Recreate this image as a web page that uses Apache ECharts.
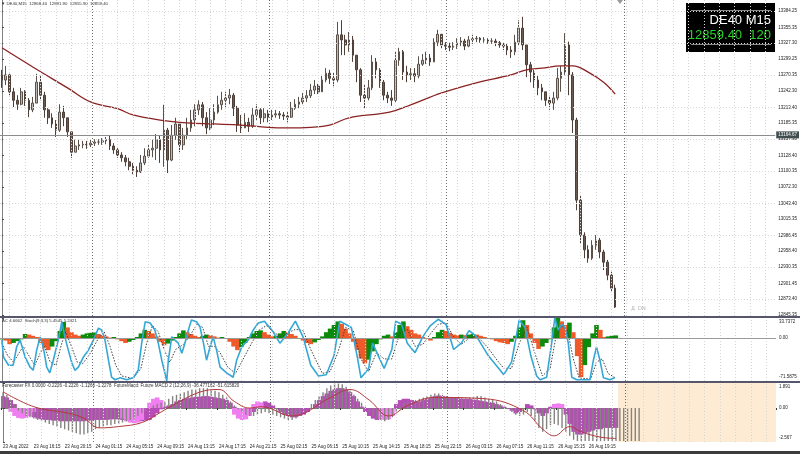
<!DOCTYPE html>
<html><head><meta charset="utf-8">
<script src="https://cdn.jsdelivr.net/npm/echarts@6/dist/echarts.min.js"></script>
<style>html,body{margin:0;padding:0;background:#fff}#c{width:800px;height:454px}</style>
</head><body><div id="c"></div><script>
// ---------- DATA ----------
const NCAT = 201; // 30-min slots across the plot (incl. empty future area)
const timeLabels = ['23 Aug 2022','23 Aug 16:15','23 Aug 20:15','24 Aug 01:15','24 Aug 05:15','24 Aug 09:15','24 Aug 13:15','24 Aug 17:15','24 Aug 21:15','25 Aug 02:15','25 Aug 06:15','25 Aug 10:15','25 Aug 14:15','25 Aug 18:15','25 Aug 22:15','26 Aug 03:15','26 Aug 07:15','26 Aug 11:15','26 Aug 15:15','26 Aug 19:15'];
const firstOpen = 13270;
const closes = [13262,13271,13241,13226,13219,13241,13226,13209,13221,13258,
13235,13209,13195,13184,13173,13205,13195,13170,13134,13145,
13147,13148,13147,13150,13152,13152,13154,13156,13145,13138,
13129,13124,13117,13109,13102,13099,13115,13127,13138,13141,
13156,13138,13173,13120,13164,13184,13147,13164,13177,13191,
13209,13218,13195,13177,13191,13205,13218,13226,13230,13235,
13212,13182,13177,13187,13180,13200,13209,13195,13202,13196,
13200,13202,13200,13198,13196,13212,13219,13223,13230,13234,
13244,13251,13241,13262,13274,13265,13262,13342,13333,13324,
13333,13306,13280,13235,13230,13248,13294,13280,13258,13235,
13230,13226,13297,13312,13276,13271,13273,13269,13290,13297,
13301,13294,13329,13343,13324,13322,13320,13322,13329,13331,
13322,13333,13335,13336,13333,13333,13331,13331,13328,13324,
13322,13315,13312,13329,13354,13324,13289,13276,13262,13248,
13241,13226,13221,13230,13265,13276,13324,13271,13191,13049,
12987,12961,12946,12969,12978,12957,12939,12916,12893,12859.4];
const highs = [13280,13287,13273,13248,13235,13248,13244,13230,13232,13273,
13269,13241,13212,13203,13191,13219,13216,13195,13170,13156,
13156,13154,13154,13156,13157,13157,13159,13161,13163,13150,
13141,13134,13129,13124,13115,13109,13129,13141,13148,13156,
13166,13163,13218,13177,13182,13195,13187,13177,13195,13209,
13219,13226,13223,13205,13212,13219,13234,13241,13241,13246,
13239,13216,13200,13203,13195,13212,13219,13212,13212,13209,
13209,13209,13207,13205,13205,13223,13228,13232,13239,13244,
13255,13262,13255,13271,13283,13280,13276,13365,13368,13342,
13347,13340,13306,13283,13253,13262,13306,13301,13283,13262,
13241,13244,13312,13319,13315,13287,13283,13283,13304,13308,
13312,13308,13336,13351,13345,13329,13328,13329,13336,13338,
13335,13340,13342,13340,13338,13338,13336,13336,13335,13331,
13329,13326,13322,13342,13368,13374,13324,13294,13280,13269,
13255,13241,13234,13241,13283,13287,13345,13330,13276,13195,
13058,12992,12969,12978,12987,12982,12961,12943,12922,12899];
const lows = [13248,13253,13235,13214,13209,13217,13216,13196,13205,13221,
13226,13195,13184,13177,13161,13170,13180,13161,13124,13134,
13138,13141,13140,13143,13145,13147,13147,13148,13138,13131,
13124,13117,13109,13102,13095,13090,13097,13111,13124,13125,
13120,13115,13108,13097,13118,13156,13134,13138,13156,13170,
13180,13200,13180,13166,13173,13182,13202,13209,13212,13219,
13198,13170,13168,13177,13170,13177,13191,13184,13187,13187,
13191,13195,13193,13191,13187,13195,13209,13212,13219,13223,
13230,13237,13237,13241,13258,13255,13251,13258,13306,13306,
13312,13294,13258,13223,13212,13226,13244,13265,13248,13226,
13221,13216,13222,13287,13262,13258,13262,13258,13265,13287,
13290,13287,13294,13322,13317,13315,13313,13315,13317,13322,
13315,13320,13326,13329,13328,13328,13326,13326,13322,13319,
13315,13306,13301,13306,13324,13315,13267,13258,13248,13235,
13226,13216,13209,13209,13226,13241,13271,13235,13168,13031,
12973,12946,12938,12943,12961,12946,12925,12907,12886,12858];
const maPoints = [[0,13319],[8,13285],[17,13248],[23,13223],[30,13211],[34,13200],[41,13191],[48,13186],[55,13184],[62,13182],[69,13178],[74,13177],[80,13178],[85,13182],[90,13195],[100.5,13205],[106,13218],[114,13239],[123,13257],[132,13271],[136,13280],[140,13283],[145,13287],[148,13287],[152,13276],[156,13258],[159,13237]];
const priceTicks = [13384.25,13355.35,13327.30,13299.25,13270.35,13242.30,13213.40,13185.35,13157.30,13128.40,13100.35,13072.30,13043.40,13015.35,12986.45,12958.40,12930.35,12901.45,12873.40,12845.35];
const gridPrices = [13384.25,13327.30,13270.35,13213.40,13157.30,13100.35,13043.40,12986.45,12930.35,12873.40];
const hLinePrice = 13164.67;
const lastPrice = 12859.40;
const daySeparators = [23.3, 69.4, 115.3, 161.4];
const futureStart = 159.5;

const acTicks = [33.7372, 0, -71.5875];
const acTickText = ['33.7372','0.00','-71.5875'];
const acValues = [-2,-4,-10,-8,-5,-2,7,6,4,2,-8,-16,-20,-14,-5,12,27,18,10,6,4,6,8,9,9.5,7,5,3,1,2,-2,-5,-8,-6,-3,2,8,14,12,8,3,-6,-12,-9,-4,2,8,13,10,7,4,2,4,6,5,3,1,2,0,-6,-14,-20,-15,-8,2,8,12,
13,10,6,3,4,8,12,10,7,4,0,-4,-8,-10,-7,-3,3,10,16,22,28,24,16,8,-6,-20,-34,-42,-36,-22,-10,-2,4,6,3,10,22,28,20,14,8,6,2,0,-4,2,10,14,12,9,6,5,6,5,6,7,6,4,2,0,-2,-5,-7,-8,-10,-6,4,18,30,22,8,-8,-18,
-14,-8,-2,18,35,28,22,26,10,-30,-65,-45,-15,8,22,14,2,3,4,4.6662];
const stochMain = [[0,65],[0.4,38],[1.7,25],[2.9,25],[3.8,54],[4.7,65],[6,38],[7.3,22],[8.1,17],[9,49],[9.9,70],[10.7,54],[11.6,22],[12.4,13],[13.3,33],[14.6,65],[15.5,94],[16.3,70],[17.2,49],[18.1,29],[18.9,17],[19.8,22],[21.1,38],[22.4,49],[23.7,65],[25,84],[25.8,81],[26.7,65],[27.6,33],[28.4,6],[29.3,2],[30.6,5],[32.3,2],[34,5],[35.3,17],[36.2,60],[37.1,94],[38.4,92],[39.6,81],[40.5,60],[41.4,33],[42.2,13],[42.7,0],[43.1,33],[44,70],[44.8,65],[45.7,60],[46.6,44],[47.4,60],[48.3,81],[49.1,97],[50.4,94],[51.3,86],[52.2,60],[53,33],[53.9,54],[54.7,70],[55.6,49],[56.5,22],[58.2,13],[59.9,6],[60.8,33],[62.1,54],[63.8,65],[65.1,81],[66.4,92],
[68,95],[70,80],[72,60],[74,75],[76,95],[78,70],[80,25],[82,8],[84,10],[86,40],[87.5,95],[89,90],[90.5,85],[92,40],[93,5],[95,20],[96,60],[97.5,40],[99,20],[101,50],[102,95],[103.5,90],[105,60],[107,45],[109,70],[111,88],[113,98],[115,90],[117,50],[119,60],[121,80],[123,70],[126,40],[128,25],[130,10],[132,30],[134,97],[135.5,85],[137,40],[138.5,8],
[139.4,2],[141.1,6],[142.4,60],[143.2,100],[144.1,81],[145,90],[145.8,86],[146.7,60],[147.6,6],[148.9,2],[152.3,2],[153.2,33],[154,54],[154.9,33],[155.8,5],[157.5,2],[158.8,5.45]];
const stochSignal = [[0,60],[1.5,40],[3,30],[4.5,45],[5.5,55],[7,40],[8.5,25],[10,45],[11,55],[12.5,30],[14,25],[15.5,60],[16.5,78],[18,55],[19.5,30],[21,28],[23,45],[25,68],[26.5,78],[28,55],[29.5,25],[31,8],[34,4],[36,20],[37.5,60],[39,88],[40.5,78],[42,50],[43.5,30],[45,50],[47,58],[49,75],[50.5,90],[52,85],[53.5,55],[55,55],[56.5,45],[58.5,22],[60.5,12],[62.5,35],[64.5,58],[66.5,80],[68.5,88],[72,70],[76,82],[78,80],[80,50],[83,12],[85,15],[87,45],[89,85],[91,80],[93,35],[95,15],[97,45],[99,35],[101,35],[103,75],[105,82],[107,55],[109,58],[111,75],[113,90],[115,92],[117,70],[119,58],[121,68],[123,72],[126,52],[128,35],[130,20],[132,20],[134,60],[136,85],[138,45],[140,8],[142,20],[143.5,70],[145,88],[146.5,80],[148,35],[149.5,5],[152.5,3],[154,30],[155.5,35],[157,12],[158.8,5.24]];

const fxTicks = [1.891, 0, -2.567];
const fxTickText = ['1.891','0.00','-2.567'];
const macdHist = [0.9,0.8,0.6,0.3,-0.2,-0.4,-0.5,-0.6,-0.7,-0.8,
-0.85,-0.9,-0.9,-0.95,-0.95,-1.0,-1.0,-1.0,-1.0,-1.0,-1.0,-1.0,-0.95,-0.95,-0.9,-0.9,-0.9,-0.9,-0.85,-0.85,-0.85,-0.9,-0.9,-0.95,-1.0,-1.0,-1.0,-0.95,-0.9,-0.7,
-0.4,-0.1,0.1,0.2,0.3,0.5,0.6,0.7,0.75,0.8,0.85,0.85,0.9,0.9,0.85,0.8,0.75,0.7,0.6,0.4,
0.1,-0.2,-0.5,-0.6,-0.5,-0.3,0.1,0.4,0.5,0.4,0.2,0,-0.3,-0.5,-0.6,-0.7,-0.7,-0.6,-0.5,-0.3,
0,0.3,0.6,0.9,1.1,1.3,1.4,1.5,1.5,1.4,1.2,0.9,0.5,0.1,-0.3,-0.6,-0.8,-0.9,-0.8,-0.6,
-0.3,0,0.3,0.6,0.7,0.7,0.6,0.5,0.5,0.6,0.7,0.8,0.9,0.95,0.9,0.85,0.8,0.8,0.75,0.7,
0.7,0.7,0.65,0.6,0.55,0.5,0.45,0.4,0.3,0.2,0.1,0,-0.2,-0.4,-0.3,0,0.3,0.2,-0.1,-0.4,
-0.6,-0.4,0.1,0.3,0.2,0,-0.5,-1.2,-1.8,-2.0,-2.0,-1.9,-1.8,-1.7,-1.6,-1.6,-1.5,-1.5,-1.5,-1.5];
const fxPink = [[2,-0.3],[3,-0.6],[4,-0.75],[5,-0.8],[6,-0.75],[7,-0.6],[8,-0.3],[31,-0.8],[32,-1.0],[33,-1.1],[34,-1.15],[35,-1.1],[36,-0.9],[38,0.4],[39,0.7],[40,0.8],[41,0.6],[60,-0.5],[61,-0.8],[62,-0.9],[63,-0.85],[64,-0.6],[65,0.3],[66,0.5],[67,0.4],[98,-0.8],[99,-0.9],[100,-0.85],[101,-0.6],[143,0.3],[144,0.35],[145,0.3]];
const grayHist = [1.2,1.0,0.6,0.2,-0.2,-0.4,-0.6,-0.7,-0.8,-0.9,
-1.0,-1.1,-1.2,-1.3,-1.4,-1.5,-1.6,-1.7,-1.8,-1.9,-2.0,-2.0,-1.9,-1.8,-1.6,-1.5,-1.4,-1.3,-1.3,-1.2,-1.2,-1.1,-1.0,-0.9,-0.8,-0.6,-0.4,-0.2,0,0.2,
0.3,0.4,0.5,0.7,0.9,1.0,1.1,1.2,1.3,1.4,1.4,1.5,1.5,1.5,1.4,1.3,1.2,1.0,0.8,0.5,
0.2,-0.1,-0.3,-0.5,-0.6,-0.6,-0.5,-0.4,-0.3,-0.4,-0.5,-0.6,-0.7,-0.8,-0.9,-0.9,-0.8,-0.6,-0.3,0,
0.3,0.6,0.9,1.2,1.5,1.7,1.85,1.85,1.8,1.6,1.3,1.0,0.7,0.4,0.1,-0.3,-0.6,-0.8,-0.9,-1.0,
-0.9,-0.7,-0.3,0.1,0.4,0.5,0.5,0.6,0.7,0.8,0.9,1.0,1.1,1.1,1.0,0.9,0.8,0.8,0.8,0.8,
0.8,0.8,0.8,0.9,0.9,0.8,0.7,0.6,0.5,0.3,0.1,-0.1,-0.3,-0.5,-0.6,-0.5,-0.3,-0.6,-1.0,-1.5,
-1.8,-1.6,-1.3,-1.2,-1.3,-1.5,-1.8,-2.1,-2.4,-2.5,-2.5,-2.5,-2.5,-2.5,-2.5,-2.5,-2.5,-2.5,-2.5,-2.5,
-2.5,-2.5,-2.5,-2.5,-2.5,-2.5];
const signalLine = [[0,1.23],[8,0.1],[17,-0.4],[21,-0.77],[25,-1.5],[30,-1.4],[36,-1.1],[41,-0.3],[44,0.2],[51,1.2],[56,1.4],[60,0.5],[64,0],[67,0.1],[75,-0.6],[85,0.8],[90,1.4],[95,0.6],[100,-0.6],[105,0.2],[112,0.8],[125,0.7],[135,-0.2],[140,-1.6],[143,-2.1],[147,-1.4],[150,-1.8],[155,-2.2],[159,-2.3]];

// ---------- BUILD ----------
const cats = Array.from({length: NCAT}, (_, i) => String(i));
const candleData = closes.map((c, i) => [i === 0 ? firstOpen : closes[i - 1], c, lows[i], highs[i]]);
const acData = acValues.map((v, i) => ({value: v, itemStyle: {color: (i > 0 && v < acValues[i - 1]) ? '#ef5a2a' : '#0b8a0b'}}));
const vGrid = []; for (let c = 2; c < NCAT; c += 4) vGrid.push({xAxis: c});
const gridLineStyle = {color: '#d6d6d6', width: 1, type: [1, 2]};
const dayLineStyle = {color: '#6e6e6e', width: 1, type: [1, 2]};
function gridSeries(gi, yi, extraY) {
  const data = vGrid.map(d => Object.assign({lineStyle: gridLineStyle}, d))
    .concat(daySeparators.map(d => ({xAxis: d, lineStyle: dayLineStyle})))
    .concat((extraY || []).map(p => ({yAxis: p, lineStyle: gridLineStyle})));
  return {type: 'line', xAxisIndex: 3 + gi, yAxisIndex: yi, data: [], z: 0, silent: true,
    markLine: {silent: true, symbol: 'none', label: {show: false}, animation: false, data: data}};
}
// edge labels are nudged inside the panel (top label down, bottom label up) like the terminal does
const edgeFmt = (ticks, texts) => v => {
  const k = ticks.findIndex(t => Math.abs(t - v) < 1e-6);
  if (k < 0) return '';
  if (k === 0) return '{t|' + texts[k] + '}';
  if (k === ticks.length - 1) return '{b|' + texts[k] + '}';
  return texts[k];
};
const edgeRich = {t: {fontSize: 4.5, padding: [8, 0, 0, 0], color: '#222'}, b: {fontSize: 4.5, padding: [0, 0, 8, 0], color: '#222'}};
const lblBase = {fontSize: 4.5, color: '#222', margin: 3, fontFamily: 'Liberation Sans, Arial'};
const hiddenCat = gi => ({type: 'category', gridIndex: gi, data: cats, boundaryGap: true, axisLine: {show: false}, axisTick: {show: false}, axisLabel: {show: false}});

const option = {
  animation: false,
  backgroundColor: '#ffffff',
  grid: [
    {left: 0, top: 0, width: 776, height: 316},
    {left: 0, top: 318, width: 776, height: 63},
    {left: 0, top: 383, width: 776, height: 59}
  ],
  xAxis: [
    hiddenCat(0),
    hiddenCat(1),
    {type: 'category', gridIndex: 2, data: cats, boundaryGap: true,
      axisLine: {show: true, lineStyle: {color: '#7a7a7a', width: 1}},
      axisTick: {show: true, interval: 7, length: 2, lineStyle: {color: '#333'}},
      axisLabel: {show: true, interval: 7, align: 'left', fontSize: 4.5, color: '#222', margin: 2, fontFamily: 'Liberation Sans, Arial',
        formatter: (v) => { const i = +v; return i % 8 === 0 ? (timeLabels[i / 8] || '') : ''; }}},
    {type: 'value', gridIndex: 0, min: -0.5, max: NCAT - 0.5, show: false},
    {type: 'value', gridIndex: 1, min: -0.5, max: NCAT - 0.5, show: false},
    {type: 'value', gridIndex: 2, min: -0.5, max: NCAT - 0.5, show: false},
    hiddenCat(2),
    hiddenCat(2)
  ],
  yAxis: [
    {type: 'value', gridIndex: 0, position: 'right', min: 12843.6, max: 13403.75, scale: true,
      axisLine: {show: true, lineStyle: {color: '#808080'}},
      axisTick: {show: true, length: 2, customValues: priceTicks, lineStyle: {color: '#444'}},
      axisLabel: Object.assign({customValues: priceTicks, formatter: v => v.toFixed(2)}, lblBase),
      splitLine: {show: false}},
    {type: 'value', gridIndex: 1, position: 'right', min: -71.5875, max: 33.7372,
      axisLine: {show: true, lineStyle: {color: '#808080'}},
      axisTick: {show: true, length: 2, customValues: acTicks, lineStyle: {color: '#444'}},
      axisLabel: Object.assign({customValues: acTicks, formatter: edgeFmt(acTicks, acTickText), rich: edgeRich}, lblBase),
      splitLine: {show: false}},
    {type: 'value', gridIndex: 1, min: 0, max: 100, show: false},
    {type: 'value', gridIndex: 2, position: 'right', min: -2.567, max: 1.891,
      axisLine: {show: true, lineStyle: {color: '#808080'}},
      axisTick: {show: true, length: 2, customValues: fxTicks, lineStyle: {color: '#444'}},
      axisLabel: Object.assign({customValues: fxTicks, formatter: edgeFmt(fxTicks, fxTickText), rich: edgeRich}, lblBase),
      splitLine: {show: false}}
  ],
  series: [
    gridSeries(0, 0, gridPrices),
    gridSeries(1, 1, []),
    Object.assign(gridSeries(2, 3, []), {markArea: {silent: true, itemStyle: {color: '#fdebd3'}, data: [[{xAxis: futureStart}, {xAxis: NCAT - 0.5}]]}}),
    {type: 'candlestick', xAxisIndex: 0, yAxisIndex: 0, data: candleData, barWidth: '55%', z: 3,
      itemStyle: {color: '#bdb8b3', color0: '#6a5a50', borderColor: '#5a514b', borderColor0: '#4e4038', borderWidth: 1}},
    {type: 'line', xAxisIndex: 3, yAxisIndex: 0, data: maPoints, smooth: 0.4, symbol: 'none', z: 4,
      lineStyle: {color: '#8b2222', width: 1.3},
      markLine: {silent: true, symbol: 'none', animation: false,
        data: [
          {yAxis: hLinePrice, lineStyle: {color: '#8c8c8c', width: 1, type: 'solid'},
            label: {show: true, position: 'end', distance: 1, formatter: hLinePrice.toFixed(2), fontSize: 4.5, color: '#fff', backgroundColor: '#3f4d4f', padding: [1, 2]}},
          {yAxis: lastPrice, lineStyle: {opacity: 0},
            label: {show: true, position: 'end', distance: 1, formatter: lastPrice.toFixed(2), fontSize: 4.5, color: '#fff', backgroundColor: '#22235e', padding: [1, 2]}}
        ]}},
    {type: 'bar', xAxisIndex: 1, yAxisIndex: 1, data: acData, barWidth: 4.6, z: 2,
      markLine: {silent: true, symbol: 'none', label: {show: false}, animation: false, data: [{yAxis: 0, lineStyle: {color: '#9a9a9a', width: 1, type: 'solid'}}]}},
    {type: 'line', xAxisIndex: 4, yAxisIndex: 2, data: stochSignal, symbol: 'none', z: 3, lineStyle: {color: '#404040', width: 1, type: [1.5, 1.5]}},
    {type: 'line', xAxisIndex: 4, yAxisIndex: 2, data: stochMain, symbol: 'none', z: 4, lineStyle: {color: '#35a7d6', width: 1.6}},
    {type: 'bar', xAxisIndex: 2, yAxisIndex: 3, data: macdHist, barWidth: 4.6, z: 2, itemStyle: {color: '#b64cb6'}},
    {type: 'bar', xAxisIndex: 6, yAxisIndex: 3, data: fxPink, barWidth: 4.6, z: 3, itemStyle: {color: '#f07ef0'}},
    {type: 'bar', xAxisIndex: 7, yAxisIndex: 3, data: grayHist, barWidth: 1.4, z: 4, itemStyle: {color: '#858380'}},
    {type: 'line', xAxisIndex: 5, yAxisIndex: 3, data: signalLine, smooth: 0.4, symbol: 'none', z: 5, lineStyle: {color: '#b3383a', width: 1}}
  ],
  graphic: [
    {type: 'rect', shape: {x: 0, y: 316, width: 800, height: 2}, style: {fill: '#56566c'}, z: 100},
    {type: 'rect', shape: {x: 0, y: 381, width: 800, height: 2}, style: {fill: '#56566c'}, z: 100},
    {type: 'rect', shape: {x: 0, y: 451, width: 800, height: 3}, style: {fill: '#3c3c3c'}, z: 100},
    {type: 'text', x: 1, y: 4, style: {text: '▼ DE40,M15  12868.40  12891.90  12855.90  12859.40', fontSize: 4.3, fill: '#333', verticalAlign: 'middle', fontFamily: 'Liberation Sans, Arial'}, z: 100},
    {type: 'text', x: 2, y: 321, style: {text: 'AC 4.6662  Stoch(9,3,3) 5.4545 5.2421', fontSize: 4.3, fill: '#333', verticalAlign: 'middle', fontFamily: 'Liberation Sans, Arial'}, z: 100},
    {type: 'text', x: 2, y: 385.5, style: {text: 'Forecaster FX 0.0000 -0.2226 -0.2226 -1.1266 -1.2278  FutureMacd: Future MACD 2 (12,26,9) -36.477162 -51.615820', fontSize: 4.5, fill: '#333', verticalAlign: 'middle', fontFamily: 'Liberation Sans, Arial'}, z: 100},
    {type: 'text', x: 631, y: 309, style: {text: 'Д  DN', fontSize: 5, fill: '#b0b0b0', verticalAlign: 'middle', fontFamily: 'DejaVu Sans'}, z: 100},
    {type: 'polygon', shape: {points: [[617, 0], [623, 0], [620, 4]]}, style: {fill: '#9a9a9a'}, z: 100},
    {type: 'group', z: 100, children: [
      {type: 'rect', shape: {x: 686, y: 3, width: 89, height: 49}, style: {fill: '#000'}},
      {type: 'line', shape: {x1: 691, y1: 10.5, x2: 771, y2: 10.5}, style: {stroke: '#8a8a8a', lineWidth: 1}},
      {type: 'line', shape: {x1: 691, y1: 44.5, x2: 771, y2: 44.5}, style: {stroke: '#8a8a8a', lineWidth: 1}},
      {type: 'text', x: 771, y: 20, style: {text: 'DE40 M15', fontSize: 13, fill: '#ffffff', align: 'right', verticalAlign: 'middle', fontFamily: 'Liberation Sans, Arial'}},
      {type: 'text', x: 771, y: 35, style: {text: '12859.40  120', fontSize: 13, fill: '#2ad12a', align: 'right', verticalAlign: 'middle', fontFamily: 'Liberation Sans, Arial'}}
    ]}
  ]
};
const chart = echarts.init(document.getElementById('c'), null, {renderer: 'canvas'});
chart.setOption(option);
</script></body></html>
